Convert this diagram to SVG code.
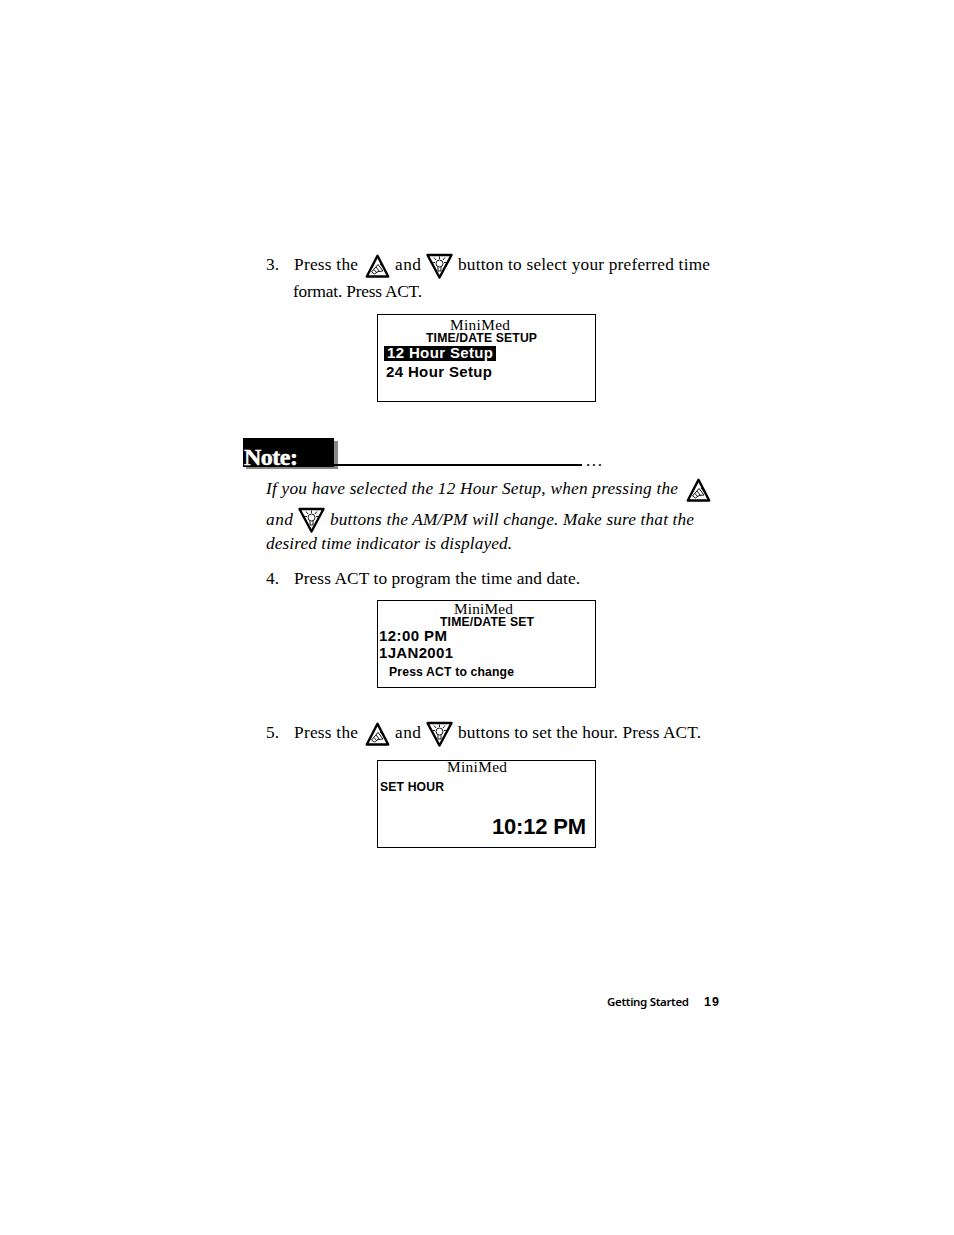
<svg xmlns="http://www.w3.org/2000/svg" width="954" height="1235" viewBox="0 0 954 1235">
<style>
.b{font-family:"Liberation Serif",serif;font-size:17.300px;fill:#000}
.i{font-style:italic}
.s{font-family:"Liberation Sans",Arial,sans-serif;font-weight:700;fill:#000}
.m{font-family:"Liberation Serif",serif;font-size:15.300px;fill:#000}
.box{fill:#fff;stroke:#000;stroke-width:1}
.ic{fill:#fff;stroke:#000;stroke-width:2.400;stroke-linejoin:round}
.th{fill:none;stroke:#000;stroke-width:.9}
</style>
<defs>
<g id="up"><path class="ic" d="M12.500 1.800 L23.200 22.500 L1.800 22.500 Z"/><path class="th" d="M6.500 18 L10 14 L13 10.500 L18 17 L13 17.500 L9.500 20 Z M9 15.500 L12 19 M11 13 L14.500 17.500 M15 10 L19.500 15 M15.500 8.500 L18.500 12"/></g>
<g id="down"><path class="ic" d="M1.500 2 L25.500 2 L13.500 24.500 Z"/><circle class="th" cx="13.500" cy="10.500" r="3.500"/><path class="th" d="M12 14 L12 18 L15 18 L15 14 M13.500 3.500 V6 M8 4.500 L10 7 M19 4.500 L17 7 M6.500 9.500 H9 M18 9.500 H20.500"/></g>
</defs>
<rect width="954" height="1235" fill="#fff"/>
<g id="step3">
<text class="b" x="266" y="270">3.</text><text class="b" x="294" y="270" textLength="64">Press the</text>
<use href="#up" x="365" y="254"/><text class="b" x="395" y="270" textLength="26">and</text><use href="#down" x="426" y="253"/>
<text class="b" x="458" y="270" textLength="252">button to select your preferred time</text>
<text class="b" x="293" y="297" textLength="129">format. Press ACT.</text>
</g>
<g id="screen1">
<rect class="box" x="377.500" y="314.500" width="218" height="87"/>
<text class="m" x="450" y="330" textLength="60">MiniMed</text>
<text class="s" x="426" y="342" font-size="12.200" textLength="111">TIME/DATE SETUP</text>
<rect x="384" y="346" width="112" height="15" fill="#000"/>
<text class="s" x="387" y="358" font-size="15" textLength="106" style="fill:#fff">12 Hour Setup</text>
<text class="s" x="386" y="377" font-size="15" textLength="106">24 Hour Setup</text>
</g>
<g id="note">
<rect x="246" y="441" width="92" height="28" fill="#888"/>
<rect x="243" y="438" width="91" height="29" fill="#000"/>
<rect x="334" y="464" width="248" height="2" fill="#000"/>
<text x="244" y="465" font-family="'Liberation Serif',serif" font-weight="700" font-size="24" textLength="54" fill="#fff" stroke="#fff" stroke-width=".5">Note:</text>
<text class="b" x="586" y="466" textLength="16">...</text>
<text class="b i" x="266" y="494" textLength="412">If you have selected the 12 Hour Setup, when pressing the</text>
<use href="#up" x="686" y="478"/>
<text class="b i" x="266" y="525" textLength="27">and</text><use href="#down" x="298" y="507"/>
<text class="b i" x="330" y="525" textLength="364">buttons the AM/PM will change. Make sure that the</text>
<text class="b i" x="266" y="549" textLength="246">desired time indicator is displayed.</text>
</g>
<g id="step4">
<text class="b" x="266" y="584">4.</text><text class="b" x="294" y="584" textLength="286">Press ACT to program the time and date.</text>
</g>
<g id="screen2">
<rect class="box" x="377.500" y="600.500" width="218" height="87"/>
<text class="m" x="454" y="614" textLength="59">MiniMed</text>
<text class="s" x="440" y="626" font-size="12.200" textLength="94">TIME/DATE SET</text>
<text class="s" x="379" y="641" font-size="15" textLength="68">12:00 PM</text>
<text class="s" x="379" y="658" font-size="15" textLength="74">1JAN2001</text>
<text class="s" x="389" y="676" font-size="12.200" textLength="125">Press ACT to change</text>
</g>
<g id="step5">
<text class="b" x="266" y="738">5.</text><text class="b" x="294" y="738" textLength="64">Press the</text>
<use href="#up" x="365" y="722"/><text class="b" x="395" y="738" textLength="26">and</text><use href="#down" x="426" y="721"/>
<text class="b" x="458" y="738" textLength="243">buttons to set the hour. Press ACT.</text>
</g>
<g id="screen3">
<rect class="box" x="377.500" y="760.500" width="218" height="87"/>
<text class="m" x="447" y="772" textLength="60">MiniMed</text>
<text class="s" x="380" y="791" font-size="12.200" textLength="64">SET HOUR</text>
<text class="s" x="492" y="834" font-size="22" textLength="94">10:12 PM</text>
</g>
<g id="footer">
<text x="607" y="1006" font-family="'Noto Sans',sans-serif" font-weight="600" font-size="11.500" textLength="82" fill="#000">Getting Started</text>
<text class="s" x="704" y="1006" font-size="12.500" textLength="15">19</text>
</g>
</svg>
